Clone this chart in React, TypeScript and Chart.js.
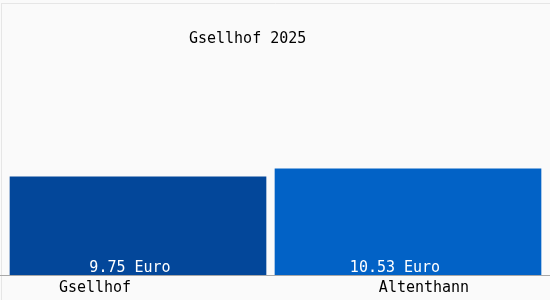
import React, { useEffect, useRef } from "react";
import { Chart, registerables } from "chart.js";

Chart.register(...registerables);

const title = "Gsellhof 2025";
const categories = ["Gsellhof", "Altenthann"];
const values = [9.75, 10.53];
const valueLabels = ["9.75 Euro", "10.53 Euro"];
const barColors = ["#03479a", "#0262c6"];

// layout tweaks (not data)
const barWidths = [256, 266];
const valueLabelShift = [-8, -13];
const catLabelShift = [-43, 16];
const FONT = "15px 'DejaVu Sans Mono', monospace";

const textPlugin = {
  id: "texts",
  beforeDraw(chart: any) {
    const { ctx, width, height } = chart;
    ctx.save();
    ctx.fillStyle = "#fafafa";
    ctx.fillRect(0, 0, width, height);
    ctx.strokeStyle = "#e6e6e6";
    ctx.lineWidth = 1;
    ctx.beginPath();
    ctx.moveTo(1.5, 3);
    ctx.lineTo(1.5, height);
    ctx.moveTo(1.5, 3.5);
    ctx.lineTo(width, 3.5);
    ctx.stroke();
    ctx.restore();
  },
  afterDatasetsDraw(chart: any) {
    const { ctx, chartArea, width } = chart;
    ctx.save();
    // baseline
    ctx.strokeStyle = "#a8a8a8";
    ctx.lineWidth = 1;
    ctx.beginPath();
    ctx.moveTo(0, chartArea.bottom + 0.5);
    ctx.lineTo(width, chartArea.bottom + 0.5);
    ctx.stroke();

    ctx.font = FONT;
    ctx.textAlign = "center";
    ctx.textBaseline = "alphabetic";
    // title
    ctx.fillStyle = "#000";
    ctx.fillText(title, chartArea.left + (chartArea.right - chartArea.left) * 0.453, 43);

    const xScale = chart.scales.x;
    categories.forEach((c, i) => {
      const meta = chart.getDatasetMeta(i);
      const bar = meta.data[i];
      const x = bar ? bar.x : xScale.getPixelForValue(i);
      ctx.fillStyle = "#ffffff";
      ctx.fillText(valueLabels[i], x + valueLabelShift[i], chartArea.bottom - 3);
      ctx.fillStyle = "#000";
      ctx.fillText(c, xScale.getPixelForValue(i) + catLabelShift[i], chartArea.bottom + 17);
    });
    ctx.restore();
  },
};

export default function App() {
  const ref = useRef<HTMLCanvasElement>(null);
  useEffect(() => {
    document.body.style.margin = "0";
    const datasets = values.map((v, i) => ({
      label: categories[i],
      data: values.map((_, j) => (j === i ? v : null)),
      backgroundColor: barColors[i],
      borderWidth: 0,
      barThickness: barWidths[i],
      grouped: false,
    }));
    const chart = new Chart(ref.current!, {
      type: "bar",
      data: { labels: categories, datasets: datasets as any },
      options: {
        animation: false,
        responsive: false,
        layout: { padding: { left: 3, right: 7, top: 0, bottom: 25 } },
        plugins: { legend: { display: false }, tooltip: { enabled: false }, title: { display: false } },
        scales: {
          x: { display: false, offset: true },
          y: { display: false, min: 0, max: 27.3 },
        },
      },
      plugins: [textPlugin],
    });
    return () => chart.destroy();
  }, []);
  return (
    <div style={{ width: 550, height: 300 }}>
      <canvas ref={ref} width={550} height={300} style={{ display: "block" }} />
    </div>
  );
}
